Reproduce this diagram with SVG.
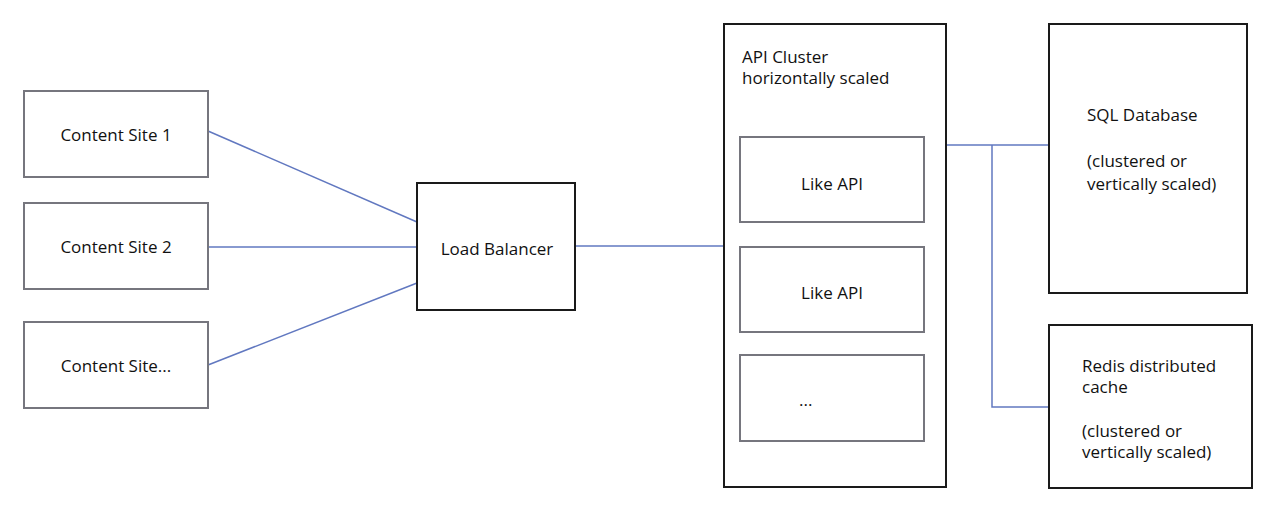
<svg xmlns="http://www.w3.org/2000/svg" width="1280" height="524" viewBox="0 0 1280 524">
<style>
.bg{fill:#fff}
.gray{fill:#fff;stroke:#76767e;stroke-width:2}
.dark{fill:#fff;stroke:#1a1a1a;stroke-width:2}
.t{font-family:"Open Sans","Liberation Sans",sans-serif;font-size:17px;fill:#111}
.m{text-anchor:middle}
.c{fill:none;stroke:#6178c0;stroke-width:1.5}
</style>
<rect class="bg" width="1280" height="524"/>
<g id="connectors">
<line class="c" x1="208" y1="131" x2="417" y2="222"/>
<line class="c" x1="208" y1="247" x2="417" y2="247"/>
<line class="c" x1="208" y1="365" x2="417" y2="283"/>
<line class="c" x1="575" y1="246" x2="724" y2="246"/>
<line class="c" x1="946" y1="145" x2="1049" y2="145"/>
<polyline class="c" points="992,145 992,407 1049,407"/>
</g>
<g id="site1"><rect class="gray" x="24" y="91" width="184" height="86"/><text class="t m" x="116" y="141">Content Site 1</text></g>
<g id="site2"><rect class="gray" x="24" y="203" width="184" height="86"/><text class="t m" x="116" y="253">Content Site 2</text></g>
<g id="site3"><rect class="gray" x="24" y="322" width="184" height="86"/><text class="t m" x="116" y="372">Content Site...</text></g>
<g id="lb"><rect class="dark" x="417" y="183" width="158" height="127"/><text class="t m" x="497" y="255">Load Balancer</text></g>
<g id="cluster"><rect class="dark" x="724" y="24" width="222" height="463"/><text class="t" x="742" y="63">API Cluster</text><text class="t" x="742" y="84">horizontally scaled</text></g>
<g id="like1"><rect class="gray" x="740" y="137" width="184" height="85"/><text class="t m" x="832" y="190">Like API</text></g>
<g id="like2"><rect class="gray" x="740" y="247" width="184" height="85"/><text class="t m" x="832" y="299">Like API</text></g>
<g id="like3"><rect class="gray" x="740" y="355" width="184" height="86"/><text class="t" x="799" y="406">...</text></g>
<g id="sql"><rect class="dark" x="1049" y="24" width="198" height="269"/><text class="t" x="1087" y="121">SQL Database</text><text class="t" x="1087" y="167">(clustered or</text><text class="t" x="1087" y="190">vertically scaled)</text></g>
<g id="redis"><rect class="dark" x="1049" y="325" width="203" height="163"/><text class="t" x="1082" y="372">Redis distributed</text><text class="t" x="1082" y="393">cache</text><text class="t" x="1082" y="437">(clustered or</text><text class="t" x="1082" y="458">vertically scaled)</text></g>
</svg>
